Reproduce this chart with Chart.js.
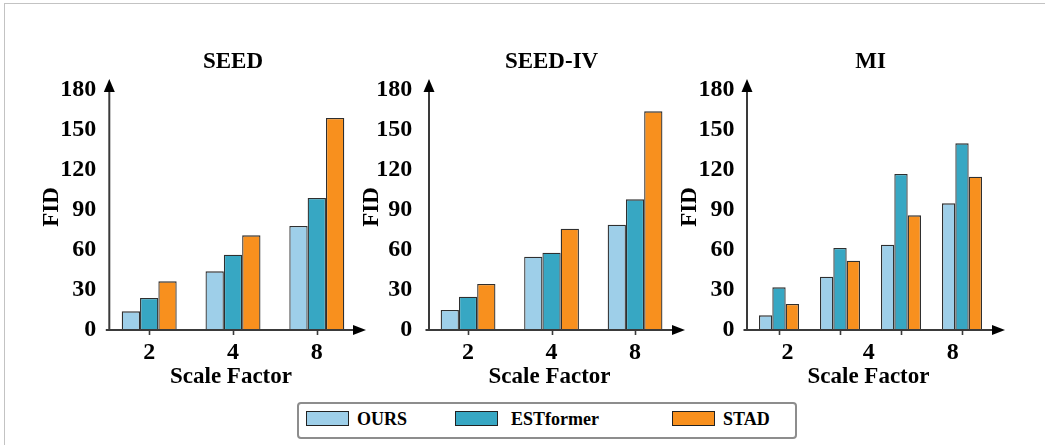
<!DOCTYPE html>
<html>
<head>
<meta charset="utf-8">
<script src="https://cdn.jsdelivr.net/npm/chart.js@4/dist/chart.umd.min.js"></script>
<style>
  html, body { margin: 0; padding: 0; background: #fff; }
  body { width: 1045px; height: 445px; position: relative; overflow: hidden; }
  .frame { position: absolute; left: 4px; top: 3px; width: 1050px; height: 450px;
           border-top: 1px solid #c3c3c3; border-left: 1px solid #c3c3c3; }
  canvas { position: absolute; top: 0; }
  .legend { position: absolute; left: 297px; top: 402px; width: 496px; height: 33px;
            border: 2px solid #8d8d8d; border-radius: 4px; }
  .sw { position: absolute; top: 411px; width: 41px; height: 13px; border: 1.5px solid #222; }
  .lt { position: absolute; top: 409px; line-height: 22px; font: bold 18px "Liberation Serif", serif; color: #000; }
</style>
</head>
<body>
<div class="frame"></div>
<canvas id="c1" width="372" height="395" style="left:0px"></canvas>
<canvas id="c2" width="340" height="395" style="left:355px"></canvas>
<canvas id="c3" width="370" height="395" style="left:672px"></canvas>

<div class="legend"></div>
<div class="sw" style="left:306px;background:#9ecfe9"></div>
<div class="lt" style="left:357px">OURS</div>
<div class="sw" style="left:455px;background:#37a7c3"></div>
<div class="lt" style="left:511px">ESTformer</div>
<div class="sw" style="left:672px;background:#f8901e"></div>
<div class="lt" style="left:723px">STAD</div>

<script>
// ---- data ----
const seriesNames = ['OURS', 'ESTformer', 'STAD'];
const seriesColors = ['#9ecfe9', '#37a7c3', '#f8901e'];

const seedCategories = ['2', '4', '8'];
const seedOurs = [14, 44, 78];
const seedEst = [24, 56.5, 99];
const seedStad = [36.5, 71, 159];

const seedIVCategories = ['2', '4', '8'];
const seedIVOurs = [15, 55, 79];
const seedIVEst = [25, 58, 98];
const seedIVStad = [34.5, 76, 164];

const miCategories = ['g1', 'g2', 'g3', 'g4'];
const miTickLabels = ['2', '4', '8'];
const miOurs = [11, 40, 64, 95];
const miEst = [32, 61.5, 117, 140];
const miStad = [19.5, 52, 86, 115];

const yTicks = [0, 30, 60, 90, 120, 150, 180];

// ---- layout of each panel (page pixels) ----
const FONT = '"Liberation Serif", "Times New Roman", serif';
const TOP = 90, BOTTOM = 330, CANVAS_H = 395;

const panels = [
  { id: 'c1', title: 'SEED', categories: seedCategories, values: [seedOurs, seedEst, seedStad],
    tickLabels: seedCategories, tickAt: [0, 1, 2],
    left: 0, width: 372, areaLeft: 107.3, areaRight: 358.7, yAxisX: 109.3, arrowTip: 366, tickPad: 11 },
  { id: 'c2', title: 'SEED-IV', categories: seedIVCategories, values: [seedIVOurs, seedIVEst, seedIVStad],
    tickLabels: seedIVCategories, tickAt: [0, 1, 2],
    left: 355, width: 340, areaLeft: 426.3, areaRight: 676.8, yAxisX: 429, arrowTip: 685, tickPad: 14 },
  { id: 'c3', title: 'MI', categories: miCategories, values: [miOurs, miEst, miStad],
    tickLabels: miTickLabels, tickAt: [0.14, 1.47, 2.85],
    left: 672, width: 370, areaLeft: 748.5, areaRight: 992.5, yAxisX: 747, arrowTip: 1005, tickPad: 14 }
];

// Axes with arrowheads, tick marks, category labels and titles
const axesPlugin = {
  id: 'arrowAxes',
  afterDatasetsDraw(chart, args, opts) {
    const p = opts.panel;
    const ctx = chart.ctx;
    const xs = chart.scales.x, ys = chart.scales.y;
    const y0 = ys.getPixelForValue(0);
    const yTop = ys.getPixelForValue(180);
    const ax = p.yAxisX - p.left;
    const tipX = p.arrowTip - p.left;
    ctx.save();
    ctx.strokeStyle = '#3a3a3a';
    ctx.lineWidth = 2;
    // y axis
    ctx.beginPath();
    ctx.moveTo(ax, y0);
    ctx.lineTo(ax, yTop - 2);
    ctx.stroke();
    // x axis
    ctx.beginPath();
    ctx.moveTo(ax - 3.5, y0);
    ctx.lineTo(tipX - 10, y0);
    ctx.stroke();
    // tick marks at each group
    ctx.lineWidth = 1.6;
    for (let i = 0; i < p.categories.length; i++) {
      const x = Math.round(xs.getPixelForValue(i)) + 0.5;
      ctx.beginPath();
      ctx.moveTo(x, y0);
      ctx.lineTo(x, y0 + 5);
      ctx.stroke();
    }
    // arrowheads
    ctx.fillStyle = '#000';
    ctx.beginPath();
    ctx.moveTo(ax, yTop - 11);
    ctx.lineTo(ax - 5.5, yTop + 2);
    ctx.lineTo(ax + 5.5, yTop + 2);
    ctx.closePath();
    ctx.fill();
    ctx.beginPath();
    ctx.moveTo(tipX, y0);
    ctx.lineTo(tipX - 13, y0 - 5);
    ctx.lineTo(tipX - 13, y0 + 5);
    ctx.closePath();
    ctx.fill();
    // category labels
    ctx.font = 'bold 24px ' + FONT;
    ctx.textAlign = 'center';
    ctx.textBaseline = 'alphabetic';
    p.tickLabels.forEach((t, i) => {
      ctx.fillText(t, xs.getPixelForValue(p.tickAt[i]), 359);
    });
    // x title
    const cx = (chart.chartArea.left + chart.chartArea.right) / 2;
    ctx.font = 'bold 23px ' + FONT;
    ctx.fillText('Scale Factor', cx - 2, 383);
    // chart title
    ctx.fillText(p.title, cx, 68);
    // y title
    ctx.save();
    ctx.translate(ax - 51, (yTop + y0) / 2 - 3);
    ctx.rotate(-Math.PI / 2);
    ctx.fillText('FID', 0, 0);
    ctx.restore();
    ctx.restore();
  }
};

panels.forEach(p => {
  const areaL = p.areaLeft - p.left;
  const padRight = p.width - (p.areaRight - p.left);
  new Chart(document.getElementById(p.id), {
    type: 'bar',
    data: {
      labels: p.categories,
      datasets: seriesNames.map((name, k) => ({
        label: name,
        data: p.values[k],
        backgroundColor: seriesColors[k],
        borderColor: '#2f2f2f',
        borderWidth: 1.3,
        categoryPercentage: 0.656,
        barPercentage: 1
      }))
    },
    options: {
      responsive: false,
      animation: false,
      devicePixelRatio: 1,
      layout: { padding: { left: 0, right: padRight, top: TOP, bottom: CANVAS_H - BOTTOM } },
      plugins: {
        legend: { display: false },
        tooltip: { enabled: false },
        arrowAxes: { panel: p }
      },
      scales: {
        x: { display: false, offset: true },
        y: {
          min: 0, max: 180,
          afterBuildTicks(scale) { scale.ticks = yTicks.map(v => ({ value: v })); },
          afterFit(scale) { scale.width = areaL; },
          grid: { display: false, drawTicks: false },
          border: { display: false },
          ticks: { padding: p.tickPad, color: '#000', font: { family: FONT, size: 24, weight: 'bold' } }
        }
      }
    },
    plugins: [axesPlugin]
  });
});
</script>
</body>
</html>
